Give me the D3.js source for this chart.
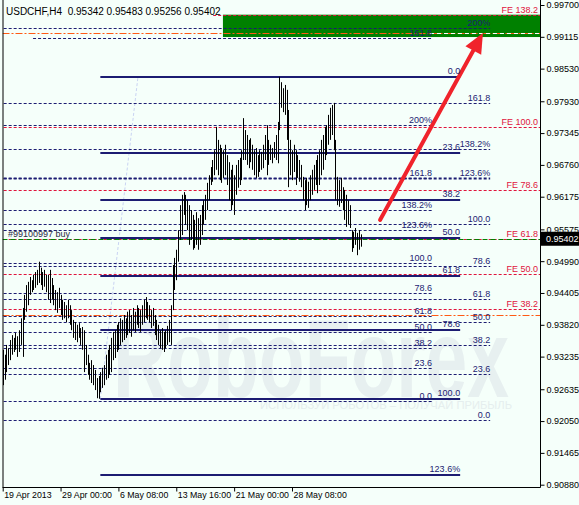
<!DOCTYPE html>
<html>
<head>
<meta charset="utf-8">
<title>USDCHF H4</title>
<script src="https://cdnjs.cloudflare.com/ajax/libs/d3/7.8.5/d3.min.js"></script>
<style>
  html, body { margin: 0; padding: 0; background: #f5fffa; }
  svg { display: block; }
  text { font-family: "Liberation Sans", Arial, sans-serif; }
</style>
</head>
<body>
<svg id="chart" width="579" height="505"></svg>
<script>
// ---------- data ----------
const chartTitle = "USDCHF,H4  0.95342 0.95483 0.95256 0.95402";

const priceTicks = [0.99700, 0.99115, 0.98530, 0.97930, 0.97345, 0.96760, 0.96175, 0.95575,
                    0.94990, 0.94405, 0.93820, 0.93235, 0.92635, 0.92050, 0.91465, 0.90880];

const timeLabels = ["19 Apr 2013", "29 Apr 00:00", "6 May 08:00", "13 May 16:00", "21 May 00:00", "28 May 08:00"];
const timeLabelBars = [0, 32, 64, 96, 128, 160];

// H4 bar highs / lows, oldest first
const barHighs = [
  .9336,.9327,.9345,.9339,.9354,.9363,.9358,.9367,.9361,.9372,
  .9394,.9413,.9437,.9455,.9461,.9470,.9464,.9474,.9479,.9483,
  .9498,.9487,.9479,.9483,.9474,.9474,.9483,.9468,.9455,.9446,
  .9442,.9450,.9437,.9428,.9424,.9418,.9428,.9418,.9409,.9391,
  .9387,.9382,.9385,.9376,.9378,.9372,.9345,.9327,.9312,.9317,
  .9308,.9299,.9284,.9288,.9295,.9303,.9308,.9327,.9336,.9345,
  .9358,.9369,.9372,.9382,.9387,.9394,.9391,.9400,.9394,.9406,
  .9409,.9400,.9413,.9406,.9418,.9413,.9409,.9418,.9428,.9433,
  .9424,.9418,.9409,.9413,.9400,.9391,.9382,.9372,.9376,.9369,
  .9372,.9380,.9391,.9418,.9492,.9505,.9520,.9556,.9602,.9621,
  .9626,.9621,.9611,.9602,.9593,.9584,.9575,.9589,.9578,.9584,
  .9602,.9611,.9621,.9643,.9657,.9672,.9685,.9703,.9746,.9722,
  .9713,.9707,.9703,.9713,.9694,.9681,.9667,.9676,.9657,.9676,
  .9685,.9689,.9703,.9762,.9740,.9731,.9722,.9725,.9713,.9703,
  .9707,.9694,.9703,.9700,.9713,.9731,.9749,.9722,.9713,.9707,
  .9718,.9731,.9755,.9838,.9828,.9817,.9823,.9814,.9777,.9722,
  .9703,.9713,.9703,.9694,.9685,.9676,.9654,.9648,.9652,.9645,
  .9657,.9667,.9676,.9685,.9694,.9703,.9722,.9731,.9746,.9749,
  .9768,.9781,.9786,.9790,.9722,.9654,.9648,.9652,.9635,.9630,
  .9621,.9611,.9602,.9556,.9553,.9560,.9551,.9556,.95483
];
const barLows = [
  .9271,.9281,.9295,.9308,.9317,.9327,.9332,.9336,.9323,.9332,
  .9345,.9323,.9391,.9406,.9418,.9437,.9442,.9446,.9450,.9455,
  .9459,.9455,.9446,.9452,.9442,.9428,.9422,.9428,.9418,.9409,
  .9404,.9413,.9400,.9391,.9394,.9387,.9394,.9382,.9372,.9358,
  .9354,.9350,.9358,.9345,.9336,.9295,.9308,.9290,.9281,.9275,
  .9271,.9262,.9247,.9246,.9258,.9266,.9271,.9281,.9284,.9290,
  .9295,.9317,.9321,.9332,.9336,.9345,.9350,.9354,.9358,.9363,
  .9367,.9360,.9372,.9369,.9382,.9376,.9369,.9382,.9387,.9394,
  .9391,.9387,.9376,.9380,.9363,.9354,.9345,.9339,.9336,.9332,
  .9339,.9345,.9350,.9345,.9409,.9446,.9464,.9498,.9538,.9547,
  .9584,.9566,.9556,.9529,.9538,.9520,.9523,.9529,.9520,.9529,
  .9547,.9566,.9575,.9593,.9611,.9639,.9645,.9657,.9667,.9657,
  .9648,.9643,.9652,.9657,.9639,.9611,.9593,.9602,.9584,.9621,
  .9634,.9639,.9648,.9685,.9685,.9676,.9670,.9681,.9667,.9657,
  .9652,.9654,.9663,.9667,.9670,.9685,.9657,.9676,.9685,.9679,
  .9689,.9685,.9679,.9740,.9781,.9773,.9768,.9722,.9635,.9657,
  .9648,.9663,.9639,.9652,.9645,.9635,.9611,.9593,.9602,.9597,
  .9611,.9621,.9630,.9639,.9624,.9639,.9657,.9667,.9685,.9694,
  .9713,.9722,.9731,.9703,.9611,.9602,.9599,.9606,.9593,.9575,
  .9562,.9566,.9560,.9516,.9523,.9529,.9510,.9520,.95256
];
const lastBid = 0.95402;

// Fibonacci retracement (solid): price at level 0 and at level 100
const retrPrices = [0.98376, 0.92456];
const retrBars = [54, 253];
const retrAnchorBars = [54, 74.8];
const retrLevels = [0, 23.6, 38.2, 50, 61.8, 78.6, 100, 123.6];
const retrLabels = ["0.0", "23.6", "38.2", "50.0", "61.8", "78.6", "100.0", "123.6%"];

// Fibonacci extensions (dashed)
const extLevels = [0, 23.6, 38.2, 50, 61.8, 78.6, 100, 123.6, 138.2, 161.8, 200];
const extLabels = ["0.0", "23.6", "38.2", "50.0", "61.8", "78.6", "100.0", "123.6%", "138.2%", "161.8", "200%"];
const extInnerPrices = [0.92419, 0.94956];
const extInnerBars = [-5, 237.4];
const extOuterPrices = [0.92070, 0.95673];
const extOuterBars = [-5, 269.6];
const extTopPrice = 0.99093;
const extTopLabel = "161.8";
const extTopBars = [16.8, 237.4];

// Fibonacci expansion (FE) levels
const fePrices = [0.92051, 0.97457];
const feLevels = [38.2, 50, 61.8, 78.6, 100, 138.2];
const feLabels = ["FE 38.2", "FE 50.0", "FE 61.8", "FE 78.6", "FE 100.0", "FE 138.2"];
const feStartBars = [-5, -5, -5, -5, -5, 116.4];

// Open order
const orderLabel = "#99100997 buy";
const orderOpen = 0.95392;
const orderStops = [0.99185, 0.93991];
const takeProfitMarkBar = 236.3;

// Target zone and projected move
const zoneBottom = 0.99111;
const zoneStartBar = 121.8;
const arrowBars = [208.7, 265.6];
const arrowPrices = [0.95747, 0.99185];

// ---------- layout ----------
const W = 579, H = 505;
const plotLeft = 2.5, plotRight = 540, plotTop = 0, plotBottom = 487;
const navy = "#1c1c72", crimson = "#e0143c", orange = "#ff5a14", fontFam = "Liberation Sans, Arial, sans-serif";

const svg = d3.select("#chart");
const x = d3.scaleLinear().domain([0, 160]).range([2.7, 292]);
const y = d3.scaleLinear().domain([0.90880, 0.99700]).range([484.7, 5]);

svg.append("rect").attr("width", W).attr("height", H).attr("fill", "#f5fffa");

svg.append("defs").append("clipPath").attr("id", "plot")
  .append("rect").attr("x", plotLeft).attr("y", plotTop)
  .attr("width", plotRight - plotLeft).attr("height", plotBottom - plotTop);

const plot = svg.append("g").attr("clip-path", "url(#plot)");

// watermark
plot.append("text").attr("x", 113).attr("y", 397)
  .attr("font-size", 112).attr("font-weight", "bold").attr("fill", "#e7f0f0")
  .attr("textLength", 396).attr("lengthAdjust", "spacingAndGlyphs")
  .text("RoboForex");
plot.append("text").attr("x", 260).attr("y", 409)
  .attr("font-size", 10.5).attr("fill", "#e5eeee")
  .attr("textLength", 252).attr("lengthAdjust", "spacingAndGlyphs")
  .text("ИСПОЛЬЗУЙ РОБОТОВ – ПОЛУЧАЙ ПРИБЫЛЬ");

const levelPrice = (p, lvl) => p[0] + (p[1] - p[0]) * lvl / 100;
const feTop = levelPrice(fePrices, 138.2);

// target zone
plot.append("rect")
  .attr("x", x(zoneStartBar)).attr("y", y(feTop))
  .attr("width", plotRight - x(zoneStartBar)).attr("height", y(zoneBottom) - y(feTop))
  .attr("fill", "#008000");

// retracement anchor line
plot.append("line")
  .attr("x1", x(retrAnchorBars[0])).attr("y1", y(retrPrices[1]))
  .attr("x2", x(retrAnchorBars[1])).attr("y2", y(retrPrices[0]))
  .attr("stroke", "#c9d3f2").attr("stroke-dasharray", "3,2");

const drawnRows = [];
function hline(g, price, b0, b1, color, dash) {
  const x0 = b0 == null ? plotLeft : x(b0);
  const x1 = b1 == null ? plotRight : x(b1);
  const yy = Math.round(y(price)) + 0.5;
  // two dashed levels landing on the same row read as one heavier line
  const twin = color === navy && drawnRows.some(r => Math.abs(r - yy) < 0.6);
  drawnRows.push(yy);
  g.append("line").attr("x1", x0).attr("x2", x1).attr("y1", yy).attr("y2", yy)
    .attr("stroke", color).attr("stroke-width", twin ? 2 : 1)
    .attr("stroke-dasharray", dash || null);
  return yy;
}
function label(g, xr, yy, txt, color) {
  g.append("text").attr("x", xr).attr("y", yy - 2.5).attr("text-anchor", "end")
    .attr("font-size", 9).attr("fill", color).text(txt);
}

const lines = plot.append("g");
const labels = svg.append("g");

// bars
plot.append("g").selectAll("line").data(barHighs).join("line")
  .attr("x1", (d, i) => Math.round(x(i)) + 0.5).attr("x2", (d, i) => Math.round(x(i)) + 0.5)
  .attr("y1", d => y(d)).attr("y2", (d, i) => y(barLows[i]))
  .attr("stroke", "#000").attr("stroke-width", 1);

// FE levels
feLevels.forEach((lvl, i) => {
  const yy = hline(lines, levelPrice(fePrices, lvl), feStartBars[i], null, crimson, "3,2");
  label(labels, 538, yy, feLabels[i], crimson);
});

// dashed extensions
extLevels.forEach((lvl, i) => {
  const yy = hline(lines, levelPrice(extInnerPrices, lvl), extInnerBars[0], extInnerBars[1], navy, "3,2");
  label(labels, x(extInnerBars[1]), yy, extLabels[i], navy);
});
extLevels.forEach((lvl, i) => {
  const yy = hline(lines, levelPrice(extOuterPrices, lvl), extOuterBars[0], extOuterBars[1], navy, "3,2");
  label(labels, x(extOuterBars[1]), yy, extLabels[i], navy);
});
{
  const yy = hline(lines, extTopPrice, extTopBars[0], extTopBars[1], navy, "3,2");
  label(labels, x(extTopBars[1]), yy, extTopLabel, navy);
}

// order lines
orderStops.forEach(p => hline(lines, p, null, null, orange, "7,2,2,2"));
hline(lines, orderStops[0], takeProfitMarkBar, null, "#ffffff", "4,3");
{
  const yy = hline(lines, orderOpen, null, null, "#008000", "5,3");
  labels.append("text").attr("x", 8).attr("y", yy - 3).attr("font-size", 9)
    .attr("fill", "#2a2a44").text(orderLabel);
}

// retracement
retrLevels.forEach((lvl, i) => {
  const p = levelPrice(retrPrices, lvl);
  const yy = y(p);
  lines.append("line").attr("x1", x(retrBars[0])).attr("x2", x(retrBars[1]))
    .attr("y1", yy).attr("y2", yy).attr("stroke", navy).attr("stroke-width", 2);
  label(labels, x(retrBars[1]), yy - 0.5, retrLabels[i], navy);
});

// projected move arrow
{
  const x0 = x(arrowBars[0]), y0 = y(arrowPrices[0]);
  const x1 = x(arrowBars[1]), y1 = y(arrowPrices[1]);
  const ang = Math.atan2(y1 - y0, x1 - x0);
  const headLen = 20, headHalf = 9;
  const bx = x1 - headLen * Math.cos(ang), by = y1 - headLen * Math.sin(ang);
  plot.append("line").attr("x1", x0).attr("y1", y0).attr("x2", bx).attr("y2", by)
    .attr("stroke", "#f0232b").attr("stroke-width", 4).attr("stroke-linecap", "round");
  const px = -Math.sin(ang), py = Math.cos(ang);
  plot.append("path")
    .attr("d", `M${x1},${y1}L${bx + px * headHalf},${by + py * headHalf}L${bx - px * headHalf},${by - py * headHalf}Z`)
    .attr("fill", "#f0232b");
}

// ---------- axes ----------
const axisG = svg.append("g");
axisG.append("line").attr("x1", plotRight + 0.5).attr("x2", plotRight + 0.5)
  .attr("y1", 0).attr("y2", plotBottom + 0.5).attr("stroke", "#000");
axisG.append("line").attr("x1", plotLeft).attr("x2", plotRight + 0.5)
  .attr("y1", plotBottom + 0.5).attr("y2", plotBottom + 0.5).attr("stroke", "#000");
axisG.append("line").attr("x1", plotLeft + 0.5).attr("x2", plotLeft + 0.5)
  .attr("y1", 0).attr("y2", plotBottom + 0.5).attr("stroke", "#000");

const yAxis = d3.axisRight(y).tickValues(priceTicks).tickSize(4).tickPadding(2)
  .tickFormat(d3.format(".5f"));
svg.append("g").attr("transform", `translate(${plotRight + 0.5},0)`).call(yAxis)
  .call(g => g.select(".domain").remove())
  .call(g => g.selectAll("text").attr("font-size", 9).attr("fill", "#000")
    .attr("font-family", fontFam));

const xAxis = d3.axisBottom(x).tickValues(timeLabelBars).tickSize(4)
  .tickFormat((d, i) => timeLabels[i]);
svg.append("g").attr("transform", `translate(0,${plotBottom + 0.5})`).call(xAxis)
  .call(g => g.select(".domain").remove())
  .call(g => g.selectAll("text").attr("font-size", 8.8).attr("fill", "#000")
    .attr("text-anchor", "start").attr("dx", 1).attr("dy", "0.45em")
    .attr("font-family", fontFam));

// last bid tag
{
  const yy = y(lastBid);
  svg.append("rect").attr("x", plotRight + 1).attr("y", yy - 7).attr("width", W - plotRight - 1)
    .attr("height", 14).attr("fill", "#000");
  svg.append("text").attr("x", plotRight + 6).attr("y", yy + 3.3).attr("font-size", 9)
    .attr("fill", "#fff").text(d3.format(".5f")(lastBid));
}

// title
svg.append("text").attr("x", 6).attr("y", 14.5).attr("font-size", 10).attr("fill", "#000")
  .attr("xml:space", "preserve").style("white-space", "pre").text(chartTitle);
</script>
</body>
</html>
